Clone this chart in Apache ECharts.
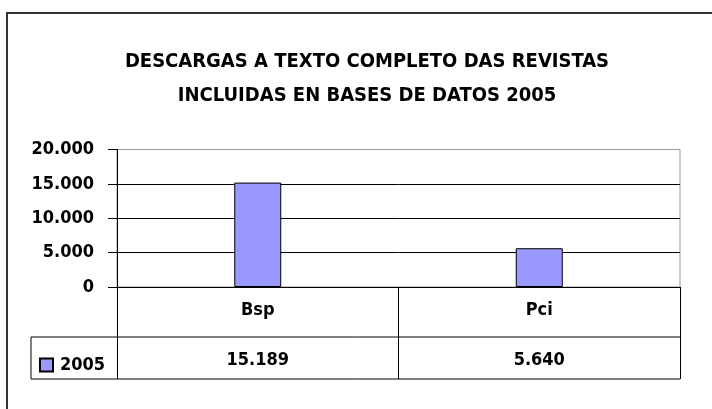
<!DOCTYPE html>
<html>
<head>
<meta charset="utf-8">
<script src="https://cdn.jsdelivr.net/npm/echarts@6/dist/echarts.min.js"></script>
<style>
html,body{margin:0;padding:0;background:#fff;}
#chart{width:712px;height:409px;}
</style>
</head>
<body>
<div id="chart"></div>
<script>
var titleLines = ['DESCARGAS A TEXTO COMPLETO DAS REVISTAS', 'INCLUIDAS EN BASES DE DATOS 2005'];
var categories = ['Bsp', 'Pci'];
var seriesName = '2005';
var values = [15189, 5640];
var yMin = 0, yMax = 20000, yStep = 5000;

var FONT = '"DejaVu Sans Condensed", "DejaVu Sans", sans-serif';
function fmt(v) {
  return String(v).replace(/\B(?=(\d{3})+(?!\d))/g, '.');
}

var G = {left: 117, right: 680, top: 149.5, bottom: 287, row1: 337, row2: 379, legendLeft: 31};

var chart = echarts.init(document.getElementById('chart'), null, {renderer: 'canvas'});
chart.setOption({
  backgroundColor: '#fff',
  animation: false,
  title: {
    text: titleLines.join('\n'),
    left: 367,
    top: 45,
    padding: 0,
    textAlign: 'center',
    textStyle: {fontFamily: FONT, fontWeight: 'bold', fontSize: 20, lineHeight: 34, color: '#000'}
  },
  legend: {
    show: true,
    left: 39,
    top: 356,
    padding: 0,
    icon: 'rect',
    itemWidth: 13,
    itemHeight: 13,
    data: [seriesName],
    textStyle: {fontFamily: FONT, fontWeight: 'bold', fontSize: 18, color: '#000', padding: [0, 0, 0, 2]}
  },
  grid: {
    left: G.left, right: 712 - G.right, top: G.top, bottom: 409 - G.bottom,
    show: true, borderColor: '#999', borderWidth: 1, backgroundColor: 'transparent'
  },
  xAxis: [{
    type: 'category',
    data: categories,
    boundaryGap: true,
    axisLine: {show: true, lineStyle: {color: '#000', width: 1}},
    axisTick: {show: true, length: G.row2 - G.bottom, lineStyle: {color: '#000', width: 1}},
    axisLabel: {margin: 13, fontFamily: FONT, fontWeight: 'bold', fontSize: 18, lineHeight: 20, color: '#000'},
    splitLine: {show: false}
  }, {
    type: 'category',
    position: 'bottom',
    data: values.map(fmt),
    boundaryGap: true,
    axisLine: {show: false},
    axisTick: {show: false},
    axisLabel: {margin: 63, fontFamily: FONT, fontWeight: 'bold', fontSize: 18, lineHeight: 20, color: '#000'},
    splitLine: {show: false}
  }],
  yAxis: {
    type: 'value',
    min: yMin, max: yMax, interval: yStep,
    axisLine: {show: true, lineStyle: {color: '#000', width: 1}},
    axisTick: {show: true, length: 9, lineStyle: {color: '#000'}},
    axisLabel: {margin: 23, fontFamily: FONT, fontWeight: 'bold', fontSize: 18, color: '#000', formatter: function (v) { return fmt(v); }},
    splitLine: {show: true, lineStyle: {color: ['#000', '#000', '#000', '#000', '#999'], width: 1}}
  },
  series: [{
    name: seriesName,
    type: 'bar',
    data: values,
    barWidth: 47,
    itemStyle: {color: '#9999FF', borderColor: '#000', borderWidth: 1}
  }],
  graphic: [
    {type: 'rect', shape: {x: 7, y: 13, width: 800, height: 500}, style: {fill: 'none', stroke: '#333', lineWidth: 2}, z: 100},
    {type: 'line', shape: {x1: G.legendLeft, y1: G.row1, x2: G.right, y2: G.row1}, style: {stroke: '#000', lineWidth: 1}, z: 100},
    {type: 'line', shape: {x1: G.legendLeft, y1: G.row2, x2: G.right, y2: G.row2}, style: {stroke: '#000', lineWidth: 1}, z: 100},
    {type: 'line', shape: {x1: G.legendLeft, y1: G.row1, x2: G.legendLeft, y2: G.row2}, style: {stroke: '#000', lineWidth: 1}, z: 100}
  ]
});
</script>
</body>
</html>
